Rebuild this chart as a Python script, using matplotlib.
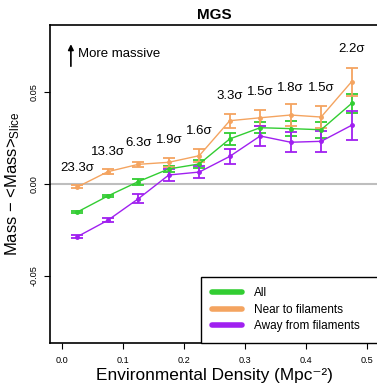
import numpy as np
import matplotlib
matplotlib.use('Agg')
import matplotlib.pyplot as plt

plt.rcParams['font.family'] = ['Liberation Sans', 'DejaVu Sans']
plt.rcParams['mathtext.fontset'] = 'custom'
plt.rcParams['mathtext.rm'] = 'Liberation Sans'
plt.rcParams['mathtext.it'] = 'Liberation Sans:italic'

# density bins
density = [0.025, 0.075, 0.125, 0.175, 0.225, 0.275, 0.325, 0.375, 0.425, 0.475]

all_y = [-0.0152, -0.0065, 0.0013, 0.0082, 0.0109, 0.0245, 0.0306, 0.0301, 0.0295, 0.0438]
all_err = [0.0005, 0.0008, 0.0016, 0.0018, 0.0020, 0.0034, 0.0029, 0.0039, 0.0044, 0.0052]

near_y = [-0.0016, 0.0067, 0.0107, 0.0118, 0.0154, 0.0344, 0.0360, 0.0375, 0.0364, 0.0556]
near_err = [0.0008, 0.0012, 0.0015, 0.0025, 0.0035, 0.0038, 0.0043, 0.0059, 0.0060, 0.0075]

away_y = [-0.0286, -0.0197, -0.0080, 0.0049, 0.0065, 0.0150, 0.0261, 0.0227, 0.0232, 0.0319]
away_err = [0.0008, 0.0012, 0.0024, 0.0033, 0.0034, 0.0043, 0.0053, 0.0055, 0.0056, 0.0079]

# significance of near vs away difference
sigma_labels = ['23.3σ', '13.3σ', '6.3σ', '1.9σ', '1.6σ', '3.3σ', '1.5σ', '1.8σ', '1.5σ', '2.2σ']
sigma_y = [0.0087, 0.0176, 0.0224, 0.0239, 0.0290, 0.0480, 0.0500, 0.0523, 0.0523, 0.0732]

green = '#32cd32'
orange = '#f4a460'
purple = '#a020f0'

fig = plt.figure(figsize=(3.77, 3.84), dpi=100)
ax = fig.add_axes([0.1326, 0.1068, 0.8727, 0.828])

ax.axhline(0, color='#bebebe', lw=1.5, zorder=1)

for y, e, c, lab in [(all_y, all_err, green, 'All'),
                     (near_y, near_err, orange, 'Near to filaments'),
                     (away_y, away_err, purple, 'Away from filaments')]:
    ax.errorbar(density, y, yerr=e, color=c, lw=1.0, elinewidth=1.3,
                capsize=4, capthick=1.3, marker='o', ms=2.5, zorder=3)
    ax.plot([], [], color=c, lw=4, solid_capstyle='round', label=lab)

for x, y, s in zip(density, sigma_y, sigma_labels):
    ax.text(x, y, s, ha='center', va='center', fontsize=9.5)

ax.annotate('', xy=(0.0143, 0.0775), xytext=(0.0143, 0.0625),
            arrowprops=dict(arrowstyle='-|>', color='black', lw=1.2,
                            mutation_scale=8))
ax.text(0.026, 0.0707, 'More massive', ha='left', va='center', fontsize=9.5)

ax.set_xlim(-0.02, 0.52)
ax.set_ylim(-0.0864, 0.0864)
ax.set_xticks([0.0, 0.1, 0.2, 0.3, 0.4, 0.5])
ax.set_xticklabels(['0.0', '0.1', '0.2', '0.3', '0.4', '0.5'], fontsize=6.6)
ax.set_yticks([-0.05, 0.0, 0.05])
ax.set_yticklabels(['-0.05', '0.00', '0.05'], fontsize=6.6, rotation=90, va='center')
ax.tick_params(length=4.5, width=0.8)
ax.tick_params(axis='x', pad=5)

ax.set_title('MGS', fontsize=11, fontweight='bold', pad=4)
ax.set_xlabel('Environmental Density (Mpc⁻²)', fontsize=12.4, va='bottom')
ax.xaxis.set_label_coords(0.5, -0.1262)
ax.set_ylabel('Mass $-$ <Mass>$_{\\rm Slice}$', fontsize=12, labelpad=6)

for sp in ax.spines.values():
    sp.set_linewidth(1.2)

leg = ax.legend(loc='lower left', bbox_to_anchor=(0.459, 0.0, 0.6, 0.2), mode='expand',
                fontsize=8.5, frameon=True, fancybox=False, edgecolor='black',
                framealpha=1, handlelength=2.6, handletextpad=1.0, labelspacing=0.38,
                borderpad=0.9, borderaxespad=0.0)
leg.get_frame().set_linewidth(1.0)

plt.savefig('out.png', dpi=100)
